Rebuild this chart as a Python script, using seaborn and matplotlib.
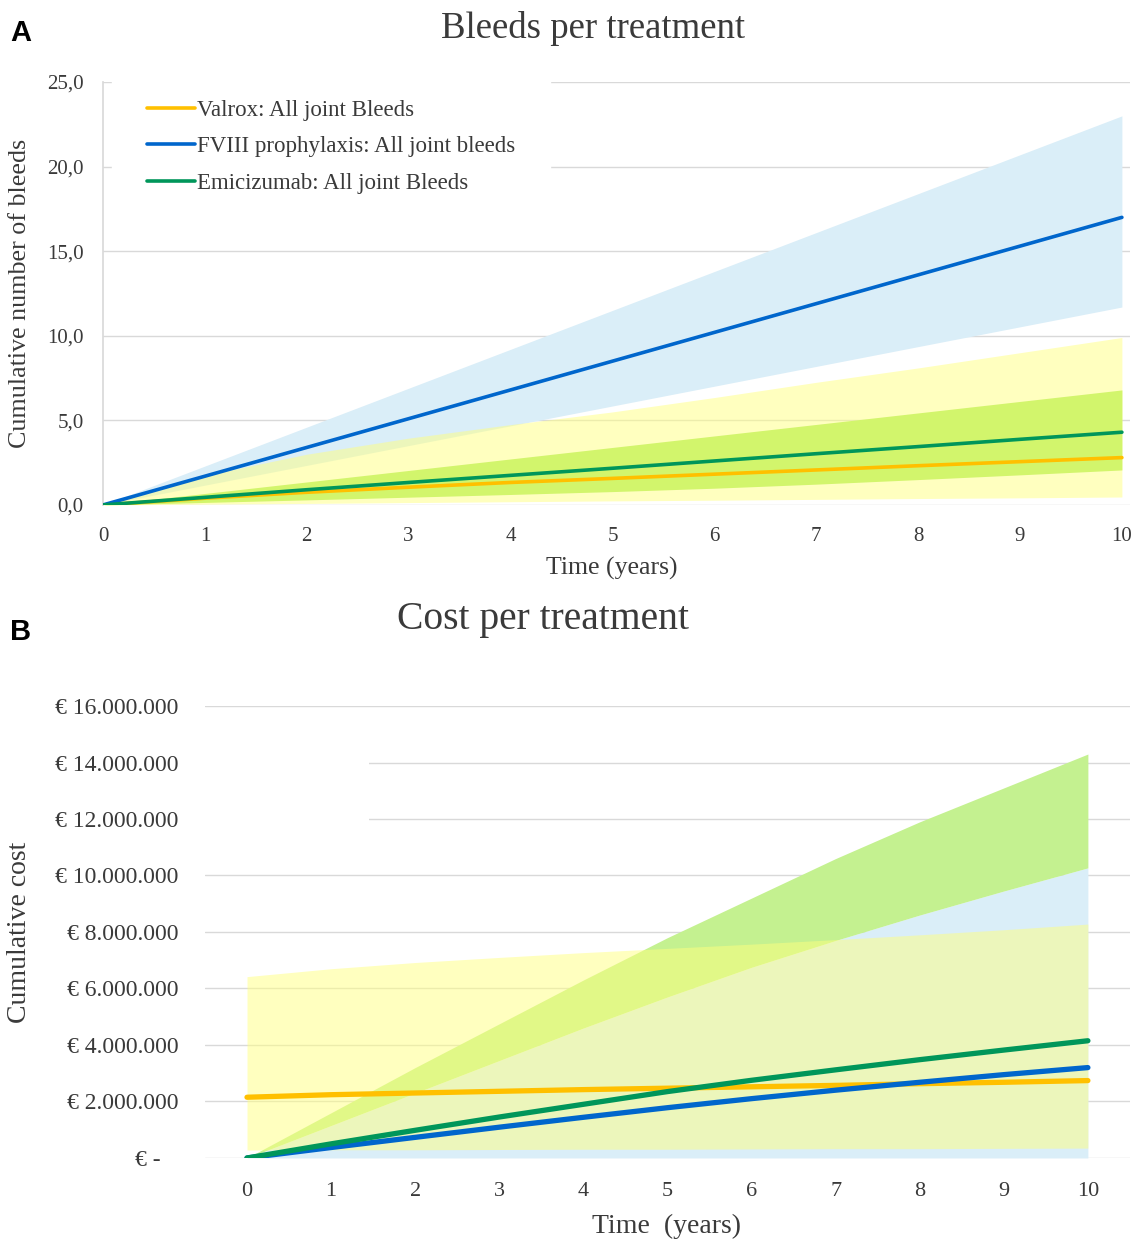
import numpy as np
import pandas as pd
import matplotlib
matplotlib.use('Agg')
import matplotlib.pyplot as plt
import seaborn as sns
from matplotlib.patches import Rectangle
from matplotlib.ticker import FuncFormatter

# years on the x axis
years = [0, 1, 2, 3, 4, 5, 6, 7, 8, 9, 10]

# [A] cumulative joint bleeds (mean line + band)
valrox_bleeds = [0, 0.40, 0.75, 1.05, 1.33, 1.57, 1.82, 2.07, 2.32, 2.56, 2.80]
valrox_bleeds_lo = [0, 0.05, 0.09, 0.14, 0.19, 0.24, 0.28, 0.33, 0.38, 0.42, 0.47]
valrox_bleeds_hi = [0, 1.75, 3.00, 3.95, 4.75, 5.50, 6.35, 7.25, 8.10, 9.00, 9.90]

fviii_bleeds = [0, 1.70, 3.40, 5.10, 6.80, 8.50, 10.20, 11.90, 13.60, 15.30, 17.00]
fviii_bleeds_lo = [0, 1.17, 2.34, 3.51, 4.68, 5.85, 7.02, 8.19, 9.36, 10.53, 11.70]
fviii_bleeds_hi = [0, 2.30, 4.60, 6.90, 9.20, 11.50, 13.80, 16.10, 18.40, 20.70, 23.00]

emi_bleeds = [0, 0.45, 0.90, 1.33, 1.75, 2.17, 2.60, 3.03, 3.45, 3.88, 4.30]
emi_bleeds_lo = [0, 0.15, 0.30, 0.46, 0.62, 0.79, 0.99, 1.23, 1.50, 1.78, 2.07]
emi_bleeds_hi = [0, 0.68, 1.36, 2.04, 2.72, 3.40, 4.08, 4.76, 5.44, 6.12, 6.80]

# [B] cumulative cost in million euro
valrox_cost = [2.15, 2.24, 2.30, 2.36, 2.42, 2.47, 2.52, 2.57, 2.63, 2.68, 2.74]
valrox_cost_lo = [0.28, 0.29, 0.29, 0.30, 0.31, 0.31, 0.32, 0.33, 0.33, 0.34, 0.35]
valrox_cost_hi = [6.42, 6.70, 6.92, 7.10, 7.27, 7.42, 7.57, 7.73, 7.90, 8.08, 8.28]

fviii_cost = [0, 0.37, 0.73, 1.09, 1.44, 1.78, 2.10, 2.40, 2.68, 2.95, 3.20]
fviii_cost_lo = [0, 0, 0, 0, 0, 0, 0, 0, 0, 0, 0]
fviii_cost_hi = [0, 1.15, 2.30, 3.45, 4.60, 5.70, 6.75, 7.70, 8.60, 9.45, 10.27]

emi_cost = [0, 0.50, 0.98, 1.45, 1.90, 2.35, 2.75, 3.12, 3.48, 3.82, 4.15]
emi_cost_hi = [0, 1.60, 3.20, 4.75, 6.30, 7.80, 9.20, 10.60, 11.90, 13.10, 14.30]

labels = ['Valrox: All joint Bleeds', 'FVIII prophylaxis: All joint bleeds',
          'Emicizumab: All joint Bleeds']

line_cols = {'valrox': '#ffc000', 'fviii': '#0066cc', 'emi': '#00965a'}
txt = '#3a3a3a'
grid_col = '#d9d9d9'

sns.set_theme(style='white')
plt.rcParams['font.family'] = ['Liberation Serif', 'DejaVu Serif']
plt.rcParams['text.color'] = txt
plt.rcParams['axes.labelcolor'] = txt
plt.rcParams['xtick.color'] = txt
plt.rcParams['ytick.color'] = txt

df_a = pd.DataFrame({'year': years, 'valrox': valrox_bleeds, 'fviii': fviii_bleeds, 'emi': emi_bleeds})
df_b = pd.DataFrame({'year': years,
                     'valrox': np.array(valrox_cost) * 1e6,
                     'fviii': np.array(fviii_cost) * 1e6,
                     'emi': np.array(emi_cost) * 1e6})

fig = plt.figure(figsize=(11.33, 12.41), dpi=100)

# ---------------- panel A ----------------
ax1 = fig.add_axes([0.0909, 0.5931, 0.9065, 0.3408])
ax1.fill_between(years, fviii_bleeds_lo, fviii_bleeds_hi, color='#daeef8', lw=0, zorder=1)
ax1.fill_between(years, valrox_bleeds_lo, valrox_bleeds_hi, color='#ffff80', alpha=0.5, lw=0, zorder=1.1)
ax1.fill_between(years, emi_bleeds_lo, emi_bleeds_hi, color='#d2f56c', lw=0, zorder=1.2)

sns.lineplot(data=df_a, x='year', y='valrox', color=line_cols['valrox'], lw=2.6, label=labels[0], ax=ax1, zorder=3)
sns.lineplot(data=df_a, x='year', y='fviii', color=line_cols['fviii'], lw=2.6, label=labels[1], ax=ax1, zorder=3)
sns.lineplot(data=df_a, x='year', y='emi', color=line_cols['emi'], lw=2.6, label=labels[2], ax=ax1, zorder=3)

ax1.set_xlim(0, 10.08)
ax1.set_ylim(0, 25)
ax1.set_xticks(years)
ax1.set_yticks([0, 5, 10, 15, 20, 25])
ax1.yaxis.set_major_formatter(FuncFormatter(lambda v, p: f'{v:.1f}'.replace('.', ',')))
ax1.tick_params(axis='y', labelsize=15, pad=14, length=0)
ax1.tick_params(axis='x', labelsize=15, pad=16, length=0)
ax1.grid(axis='y', color=grid_col, lw=1.0)
ax1.set_axisbelow(True)
for s in ['top', 'right', 'bottom']:
    ax1.spines[s].set_visible(False)
ax1.spines['left'].set_color(grid_col)
ax1.set_xlabel('')
ax1.set_ylabel('')
leg = ax1.legend(loc='upper left', bbox_to_anchor=(0.009, 1.04), fontsize=16.5, frameon=True,
                 facecolor='white', edgecolor='white', framealpha=1, fancybox=False,
                 handlelength=2.1, handletextpad=0.1, labelspacing=0.68, borderpad=1.5,
                 borderaxespad=0)
for h in leg.get_lines():
    h.set_linewidth(2.6)

fig.text(20 / 1133, 1 - 293 / 1241, 'Cumulative number of bleeds', rotation=90,
         ha='center', va='center', fontsize=18.7)
fig.text(612 / 1133, 1 - 568 / 1241, 'Time (years)', ha='center', va='center', fontsize=18.5)
fig.text(593 / 1133, 1 - 29 / 1241, 'Bleeds per treatment', ha='center', va='center', fontsize=26.5)
fig.text(10 / 1133, 1 - 33 / 1241, 'A', ha='left', va='center', fontsize=21,
         fontweight='bold', family=['Liberation Sans', 'DejaVu Sans'], color='black')

# ---------------- panel B ----------------
ax2 = fig.add_axes([0.1809, 0.0669, 0.8164, 0.3642])
cost_years = np.array(years)
ax2.fill_between(cost_years, np.array(fviii_cost_lo) * 1e6, np.array(fviii_cost_hi) * 1e6,
                 color='#daeef8', lw=0, zorder=1)
ax2.fill_between(cost_years, np.array(fviii_cost_hi) * 1e6, np.array(emi_cost_hi) * 1e6,
                 color='#c4f190', lw=0, zorder=1.1)
ax2.fill_between(cost_years, np.array(valrox_cost_lo) * 1e6, np.array(valrox_cost_hi) * 1e6,
                 color='#ffff80', alpha=0.5, lw=0, zorder=1.2)
# white box hiding part of two gridlines (as in the original)
ax2.add_patch(Rectangle((-0.5, 11e6), 1.95, 4e6, color='white', lw=0, zorder=0.9))

sns.lineplot(data=df_b, x='year', y='valrox', color=line_cols['valrox'], lw=3.8, ax=ax2, zorder=3,
             solid_capstyle='round')
sns.lineplot(data=df_b, x='year', y='fviii', color=line_cols['fviii'], lw=3.8, ax=ax2, zorder=3,
             solid_capstyle='round')
sns.lineplot(data=df_b, x='year', y='emi', color=line_cols['emi'], lw=3.8, ax=ax2, zorder=3,
             solid_capstyle='round')

def euro(v, p):
    if v == 0:
        return '€ -   '
    return '€ ' + f'{int(v):,}'.replace(',', '.')

ax2.set_xlim(-0.5, 10.5)
ax2.set_ylim(0, 16e6)
ax2.set_xticks(years)
ax2.set_yticks(np.arange(0, 16e6 + 1, 2e6))
ax2.yaxis.set_major_formatter(FuncFormatter(euro))
ax2.tick_params(axis='y', labelsize=17, pad=19, length=0)
ax2.tick_params(axis='x', labelsize=16, pad=17, length=0)
ax2.grid(axis='y', color=grid_col, lw=1.0)
ax2.set_axisbelow(True)
for s in ['top', 'right', 'bottom', 'left']:
    ax2.spines[s].set_visible(False)
ax2.set_xlabel('')
ax2.set_ylabel('')

fig.text(20 / 1133, 1 - 932 / 1241, 'Cumulative cost', rotation=90,
         ha='center', va='center', fontsize=20)
fig.text(667 / 1133, 1 - 1226 / 1241, 'Time  (years)', ha='center', va='center', fontsize=20)
fig.text(543 / 1133, 1 - 619 / 1241, 'Cost per treatment', ha='center', va='center', fontsize=28.5)
fig.text(10 / 1133, 1 - 632 / 1241, 'B', ha='left', va='center', fontsize=21,
         fontweight='bold', family=['Liberation Sans', 'DejaVu Sans'], color='black')

fig.savefig('out.png', dpi=100, facecolor='white')
